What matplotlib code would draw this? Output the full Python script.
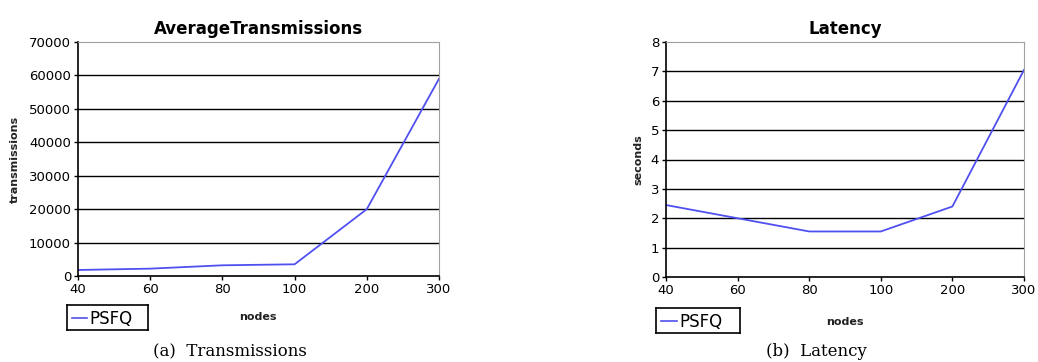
import matplotlib.pyplot as plt
import numpy as np

# x positions are categorical (evenly spaced)
nodes = ["40", "60", "80", "100", "200", "300"]
transmissions = [1800, 2200, 3200, 3500, 20000, 59000]
latency = [2.45, 2.0, 1.55, 1.55, 2.4, 7.05]

LINE_COLOR = "#5050f0"


def draw_panel(fig, rect, values, yticks, title, ylabel, ylabel_x, legend_rect, nodes_xy, caption, caption_xy):
    ax = fig.add_axes(rect)
    xs = np.arange(len(nodes))
    ax.plot(xs, values, color=LINE_COLOR, linewidth=1.3)
    ax.set_xlim(0, len(nodes) - 1)
    ax.set_ylim(yticks[0], yticks[-1])
    ax.set_xticks(xs)
    ax.set_xticklabels(nodes, fontsize=9.5)
    ax.set_yticks(yticks)
    ax.set_yticklabels([str(t) for t in yticks], fontsize=9.5)
    for t in yticks[1:-1]:
        ax.axhline(t, color="black", linewidth=1.0, zorder=0)
    ax.spines["top"].set_color("#a0a0a0")
    ax.spines["right"].set_color("#a0a0a0")
    ax.spines["left"].set_linewidth(1.2)
    ax.spines["bottom"].set_linewidth(1.2)
    ax.tick_params(axis="both", direction="out", length=3, width=1, pad=2)
    ax.set_title(title, fontsize=12, fontweight="bold", pad=6)
    fig.text(ylabel_x, rect[1] + rect[3] * 0.5, ylabel, rotation=90, fontsize=8,
             fontweight="bold", ha="center", va="center", color="#222222")

    # legend box
    lax = fig.add_axes(legend_rect)
    lax.set_xticks([])
    lax.set_yticks([])
    for s in lax.spines.values():
        s.set_linewidth(1.2)
    lax.set_xlim(0, 1)
    lax.set_ylim(0, 1)
    lax.plot([0.06, 0.25], [0.5, 0.5], color=LINE_COLOR, linewidth=1.2)
    lax.text(0.28, 0.45, "PSFQ", fontsize=12, va="center", ha="left")

    fig.text(nodes_xy[0], nodes_xy[1], "nodes", fontsize=8, fontweight="bold",
             ha="center", va="center", color="#222222")
    fig.text(caption_xy[0], caption_xy[1], caption, fontsize=12, family="DejaVu Serif",
             ha="center", va="center")
    return ax


fig = plt.figure(figsize=(10.38, 3.62), dpi=100)

W, H = 1038.0, 362.0

draw_panel(
    fig,
    [78 / W, 86 / H, 361 / W, 234 / H],
    transmissions,
    [0, 10000, 20000, 30000, 40000, 50000, 60000, 70000],
    "AverageTransmissions",
    "transmissions",
    15 / W,
    [67 / W, (H - 330) / H, 81 / W, 25 / H],
    (258 / W, (H - 317) / H),
    "(a)  Transmissions",
    (230 / W, (H - 352) / H),
)

draw_panel(
    fig,
    [666 / W, 85 / H, 358 / W, 235 / H],
    latency,
    [0, 1, 2, 3, 4, 5, 6, 7, 8],
    "Latency",
    "seconds",
    638 / W,
    [656 / W, (H - 333) / H, 84 / W, 25 / H],
    (845 / W, (H - 322) / H),
    "(b)  Latency",
    (816 / W, (H - 352) / H),
)

fig.savefig("out.png", dpi=100)
